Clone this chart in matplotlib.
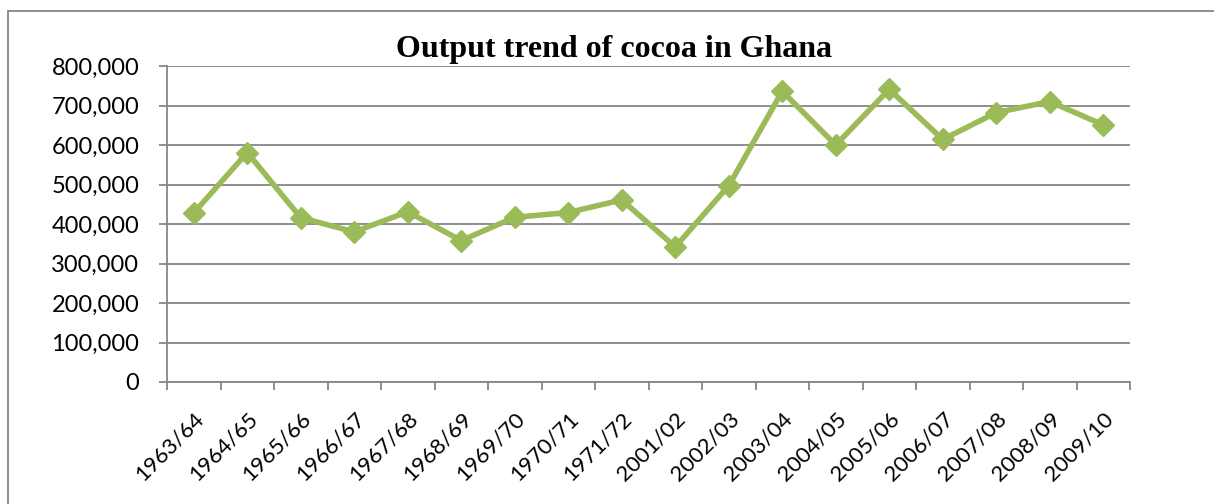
'''Output trend of cocoa in Ghana.'''
import matplotlib as mpl
mpl.use('Agg')
import matplotlib.pyplot as plt
from matplotlib.patches import Rectangle
from matplotlib.ticker import FuncFormatter, MultipleLocator

seasons = ['1963/64', '1964/65', '1965/66', '1966/67', '1967/68', '1968/69',
           '1969/70', '1970/71', '1971/72', '2001/02', '2002/03', '2003/04',
           '2004/05', '2005/06', '2006/07', '2007/08', '2008/09', '2009/10']
output = [428000, 581000, 416000, 380000, 431000, 358000,
          417000, 429000, 461000, 342000, 497000, 736000,
          600000, 741000, 614000, 682000, 710000, 651000]

GREEN = '#9bbb59'
GREY = '#868686'

fig = plt.figure(figsize=(12.14, 5.04), dpi=100)
ax = fig.add_axes([167 / 1214, 1 - 382 / 504, 963 / 1214, 316 / 504])

x = list(range(len(seasons)))
ax.plot(x, output, color=GREEN, linewidth=4, marker='D', markersize=11,
        markeredgecolor=GREEN, solid_joinstyle='miter', zorder=3)

ax.set_xlim(-0.5, len(seasons) - 0.5)
ax.set_ylim(0, 800000)
ax.yaxis.set_major_locator(MultipleLocator(100000))
ax.yaxis.set_major_formatter(FuncFormatter(lambda v, p: f'{int(v):,}'))
ax.grid(axis='y', color=GREY, linewidth=1.3)
ax.set_axisbelow(True)

# category boundaries get the tick marks, labels sit in the middle
ax.set_xticks([i - 0.5 for i in range(len(seasons) + 1)], minor=False)
ax.set_xticklabels([])
ax.set_xticks(x, minor=True)
ax.set_xticklabels(seasons, minor=True, rotation=45, ha='right',
                   rotation_mode='anchor', fontsize=16, family='Lato')
ax.tick_params(axis='x', which='major', length=6, color=GREY, width=1.3)
ax.tick_params(axis='x', which='minor', length=0, pad=19)
ax.tick_params(axis='y', length=6, color=GREY, width=1.3, labelsize=17, pad=14)
for lbl in ax.get_yticklabels():
    lbl.set_family('Lato')

for side in ['top', 'right']:
    ax.spines[side].set_visible(False)
for side in ['left', 'bottom']:
    ax.spines[side].set_color(GREY)
    ax.spines[side].set_linewidth(1.3)

fig.text(614 / 1214, 1 - 50 / 504, 'Output trend of cocoa in Ghana',
         ha='center', va='center', fontsize=23, fontweight='bold',
         family='Liberation Serif')

# chart frame
fig.patches.append(Rectangle((8 / 1214, -0.1), 1.1, 1 - 11 / 504 + 0.1,
                             transform=fig.transFigure, fill=False,
                             edgecolor=GREY, linewidth=1.3))

fig.savefig('out.png', dpi=100)
